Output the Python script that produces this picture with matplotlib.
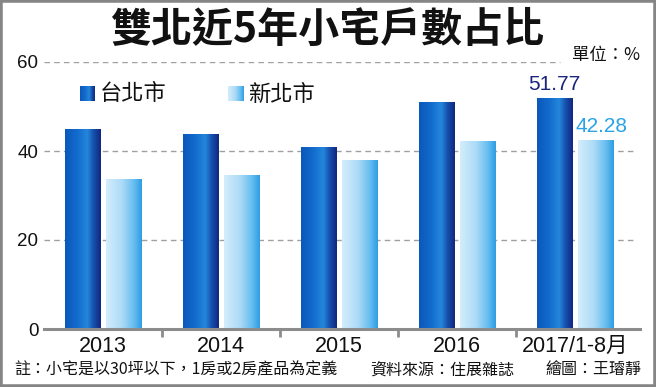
import matplotlib
matplotlib.use("Agg")
import matplotlib.pyplot as plt
import numpy as np
from matplotlib.colors import LinearSegmentedColormap
from matplotlib.patches import Rectangle

plt.rcParams['font.family'] = ['Noto Sans CJK TC', 'DejaVu Sans']

categories = ['2013', '2014', '2015', '2016', '2017/1-8月']
taipei = [44.9, 43.6, 40.7, 50.8, 51.77]
new_taipei = [33.5, 34.4, 37.8, 42.2, 42.28]
yticks = [0, 20, 40, 60]
series_names = ['台北市', '新北市']

W, H = 656, 387
fig = plt.figure(figsize=(W / 100, H / 100), dpi=100)
fig.patch.set_facecolor('white')

ax = fig.add_axes([44 / W, 58 / H, (640 - 44) / W, (329 - 62) / H])
ax.set_facecolor('none')

cm_tp = LinearSegmentedColormap.from_list('tp', [
    (0.0, '#0b58bb'), (0.35, '#136ccd'), (0.62, '#2487db'),
    (0.8, '#1650ae'), (1.0, '#10287f')])
cm_nt = LinearSegmentedColormap.from_list('nt', [
    (0.0, '#d3edfc'), (0.45, '#acdaf6'), (0.8, '#62bcef'), (1.0, '#2f9de3')])
grad = np.linspace(0, 1, 64).reshape(1, -1)

x = np.arange(len(categories))
bw = 0.30
off = 0.175
b1 = ax.bar(x - off, taipei, bw, color='none', zorder=2)
b2 = ax.bar(x + off, new_taipei, bw, color='none', zorder=2)
for bars, cm in ((b1, cm_tp), (b2, cm_nt)):
    for r in bars:
        x0, w, h = r.get_x(), r.get_width(), r.get_height()
        ax.imshow(grad, cmap=cm, extent=[x0, x0 + w, 0, h], aspect='auto',
                  zorder=3, interpolation='bicubic')

ax.set_xlim(-0.5, 4.55)
ax.set_ylim(0, 60)

# gridlines
for yv, xmax in ((20, 0.99), (40, 0.99), (60, 0.866)):
    ax.axhline(yv, xmin=0, xmax=xmax, color='#a0a0a0', lw=1.0,
               linestyle=(0, (4, 3)), zorder=1)

for s in ['top', 'right', 'left']:
    ax.spines[s].set_visible(False)
ax.spines['bottom'].set_color('#8c8c8c')
ax.spines['bottom'].set_linewidth(2.2)
ax.spines['bottom'].set_zorder(4)

ax.set_yticks(yticks)
ax.set_yticklabels([str(v) for v in yticks], fontsize=13.5,
                   family=['Liberation Sans', 'DejaVu Sans'], color='#111111')
ax.tick_params(axis='y', length=0, pad=4)

ax.set_xticks(x)
ax.set_xticklabels(categories, fontsize=15.5, color='#111111',
                   family=['Liberation Sans', 'Noto Sans CJK TC'])
ax.tick_params(axis='x', which='major', length=0, pad=5)
ax.set_xticks(x[:-1] + 0.5, minor=True)
ax.tick_params(axis='x', which='minor', length=6, width=2, color='#8c8c8c',
               direction='out')

# value labels on last pair
ax.text(x[-1] - off, taipei[-1] + 1.0, f'{taipei[-1]:.2f}', ha='center',
        va='bottom', fontsize=15, color='#1a237e',
        family=['Liberation Sans', 'DejaVu Sans'])
ax.text(x[-1] + off + 0.05, new_taipei[-1] + 1.0, f'{new_taipei[-1]:.2f}',
        ha='center', va='bottom', fontsize=15, color='#2aa3e6',
        family=['Liberation Sans', 'DejaVu Sans'])

# legend (custom)
lg = [(80, cm_tp, series_names[0]), (228, cm_nt, series_names[1])]
for px, cm, name in lg:
    lax = fig.add_axes([px / W, 1 - 101 / H, 15 / W, 15 / H])
    lax.imshow(grad, cmap=cm, aspect='auto', interpolation='bicubic')
    lax.axis('off')
    fig.text((px + 20) / W, 1 - 94 / H, name, fontsize=16, ha='left',
             va='center', color='#111111')

# title
fig.text(0.5, 1 - 30 / H, '雙北近5年小宅戶數占比', fontsize=29.5,
         fontweight='heavy', ha='center', va='center', color='#111111')
fig.text(640 / W, 1 - 55 / H, '單位：%', fontsize=12.5, ha='right',
         va='center', color='#111111')

# footer
fy = 1 - 370 / H
fig.text(14 / W, fy, '註：小宅是以30坪以下，1房或2房產品為定義', fontsize=11.5,
         ha='left', va='center', color='#111111')
fig.text(370 / W, fy, '資料來源：住展雜誌', fontsize=11.5, ha='left',
         va='center', color='#111111')
fig.text(641 / W, fy, '繪圖：王璿靜', fontsize=11.5, ha='right',
         va='center', color='#111111')

# outer frame
fig.patches.append(Rectangle((0, 0), 1, 1, transform=fig.transFigure,
                             fill=False, edgecolor='#858585', lw=4,
                             zorder=10))

fig.savefig('out.png', dpi=100)
